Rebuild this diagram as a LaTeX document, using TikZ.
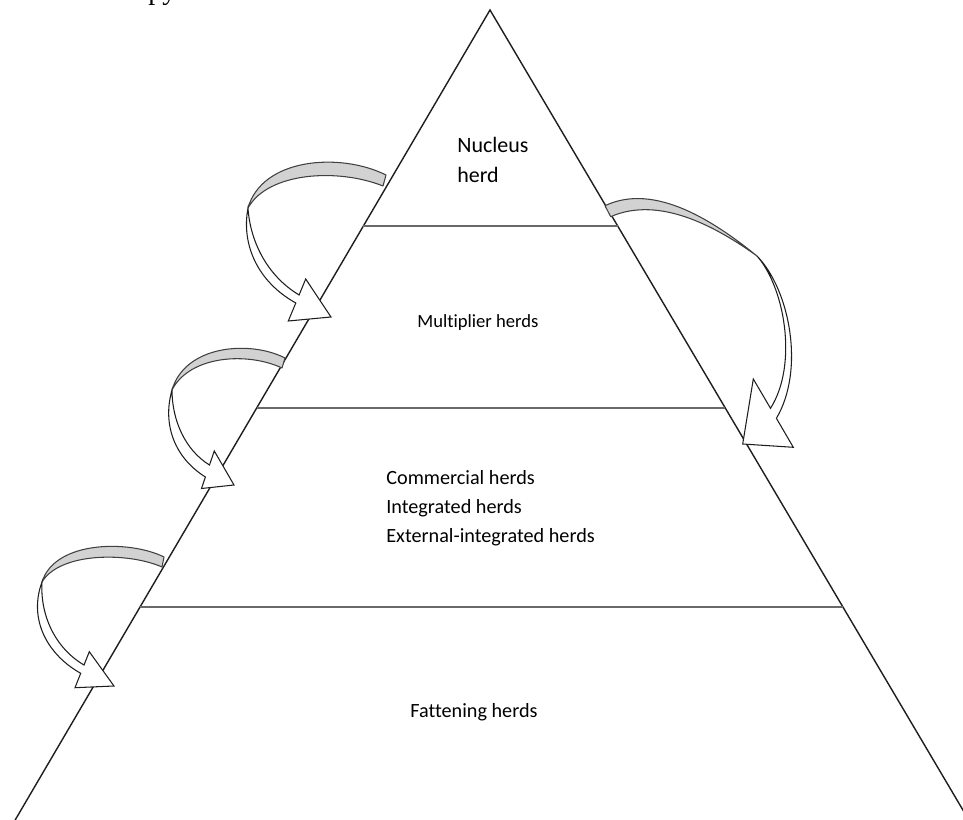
\documentclass[tikz,border=0pt]{standalone}
\usepackage{fontspec}
\setmainfont{Carlito}[Ligatures=NoCommon]
\newfontfamily\pageserif{Liberation Serif}
\usetikzlibrary{calc}
\definecolor{edge}{RGB}{30,30,30}
\definecolor{rule}{RGB}{105,105,105}
\definecolor{bandgray}{RGB}{210,210,210}
\tikzset{
  side/.style={draw=edge,line width=0.8pt},
  tier/.style={draw=rule,line width=0.9pt},
  band/.style={fill=bandgray,draw=edge!85,line width=0.6pt,line join=round},
  ribbon/.style={fill=white,draw=edge,line width=0.6pt},
  lbl/.style={font=\fontsize{11.5}{14}\selectfont,anchor=base west,inner sep=0pt},
}

\begin{document}
\begin{tikzpicture}[x=0.02cm,y=-0.02cm]
    \useasboundingbox (0,0) rectangle (963,820);
    \coordinate (apex) at (490,10);
    \coordinate (left) at (14,822);
    \coordinate (right) at (970,822);
    \draw[side] (left) -- (apex) -- (right);
    % tier lines
    \foreach \t/\n in {0.266/a,0.490/b,0.735/c}{
      \coordinate (l\n) at ($(apex)!\t!(left)$);
      \coordinate (r\n) at ($(apex)!\t!(right)$);
      \draw[tier] (l\n) -- (r\n);
    }
    % curved arrows, left side
    \filldraw[band] (386,175) .. controls (340,152) and (262,158) .. (248,208)
      .. controls (268,172) and (338,168) .. (383,186) -- cycle;
    \filldraw[ribbon] (248,208) .. controls (241,245) and (258,282) .. (295.8,303)
      -- (288.3,321) -- (331,317) -- (305.7,279) -- (299.1,295)
      .. controls (266,275) and (250,240) .. (248,208) -- cycle;
    \filldraw[band] (285,358) .. controls (250,340) and (185,345) .. (172,390)
      .. controls (190,355) and (248,352) .. (282,368) -- cycle;
    \filldraw[ribbon] (172,390) .. controls (162,425) and (175,458) .. (205.4,477)
      -- (201.5,488.5) -- (234,485) -- (214.3,451) -- (209.5,465)
      .. controls (185,450) and (172,420) .. (172,390) -- cycle;
    \filldraw[band] (164,557) .. controls (130,540) and (55,540) .. (42,582)
      .. controls (60,552) and (128,552) .. (162,567) -- cycle;
    \filldraw[ribbon] (42,582) .. controls (28,620) and (48,655) .. (80.7,673.3)
      -- (75,687.7) -- (114,686) -- (89.3,651.7) -- (84,665)
      .. controls (55,648) and (40,615) .. (42,582) -- cycle;
    % curved arrow, right side
    \filldraw[band] (605,205.7) .. controls (655,182) and (715,222) .. (757,256)
      .. controls (718,228) and (660,195) .. (610.7,216.7) -- cycle;
    \filldraw[ribbon] (757,256) .. controls (790,290) and (805,370) .. (776.4,418.3)
      -- (793.3,447.3) -- (742.7,444) -- (753.3,379) -- (770.5,408.3)
      .. controls (798,365) and (785,288) .. (757,256) -- cycle;
    % labels
    \node[lbl,font=\fontsize{12.5}{15}\selectfont] (nuc1) at (457,153) {Nucleus};
    \node[lbl,font=\fontsize{12.5}{15}\selectfont] (nuc2) at (457,183) {herd};
    \node[lbl,font=\fontsize{10.6}{13}\selectfont] (mult) at (417,328) {Multiplier herds};
    \foreach \t/\y [count=\i] in {Commercial herds/484,Integrated herds/513,External-integrated herds/542}
      \node[lbl] (com\i) at (386,\y) {\t};
    \node[lbl] (fat) at (410,717) {Fattening herds};
    \node[font=\pageserif\fontsize{16}{18}\selectfont,anchor=base west,inner sep=0pt] (cut) at (148,-0.5) {py};
\end{tikzpicture}
\end{document}
